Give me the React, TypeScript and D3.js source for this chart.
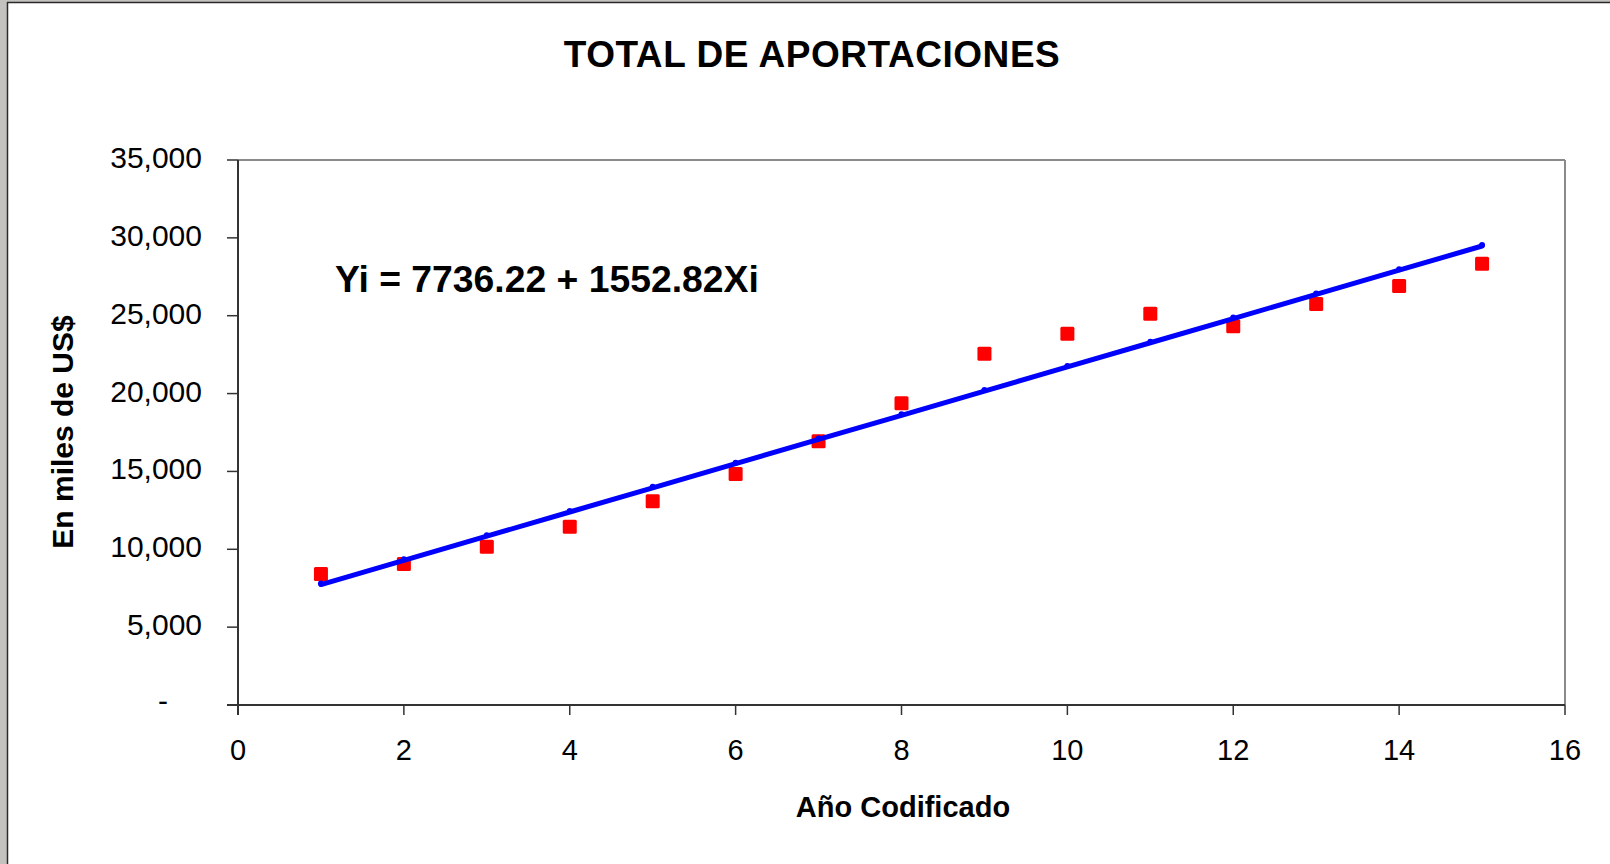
import React from "react";
import * as d3 from "d3";

const years = [1, 2, 3, 4, 5, 6, 7, 8, 9, 10, 11, 12, 13, 14, 15];
const observed = [8413, 9055, 10166, 11451, 13082, 14835, 16934, 19375, 22561, 23845, 25130, 24320, 25752, 26908, 28341];
const fitted = [7736, 9289, 10842, 12395, 13948, 15500, 17053, 18606, 20159, 21712, 23264, 24817, 26370, 27923, 29476];
const xTicks = [0, 2, 4, 6, 8, 10, 12, 14, 16];
const yTicks = [0, 5000, 10000, 15000, 20000, 25000, 30000, 35000];

const title = "TOTAL DE APORTACIONES";
const equation = "Yi = 7736.22 + 1552.82Xi";
const xLabel = "Año Codificado";
const yLabel = "En miles de US$";

export default function App() {
  const W = 1610, H = 864;
  const left = 238, right = 1565, top = 160, bottom = 705;
  const x = d3.scaleLinear().domain([0, 16]).range([left, right]);
  const y = d3.scaleLinear().domain([0, 35000]).range([bottom, top]);
  const fmt = d3.format(",");
  const line = d3
    .line<number>()
    .x((_, i) => x(years[i]))
    .y((d) => y(d));
  const font = "'Liberation Sans', Arial, Helvetica, sans-serif";
  const sq = 14;

  return (
    <svg
      width={W}
      height={H}
      style={{ position: "absolute", left: 0, top: 0, display: "block" }}
      fontFamily={font}
    >
      <rect x={0} y={0} width={W} height={H} fill="#c4c2bf" />
      <rect x={8} y={3} width={W - 8} height={H - 3} fill="#ffffff" />
      <line x1={7.5} y1={2} x2={7.5} y2={H} stroke="#2a2a2a" strokeWidth={1.5} />
      <line x1={7} y1={2.5} x2={W} y2={2.5} stroke="#2a2a2a" strokeWidth={1.5} />

      <text x={812} y={67} textAnchor="middle" fontSize={37} fontWeight="bold" letterSpacing={0.55} fill="#000">
        {title}
      </text>

      {/* plot frame */}
      <line x1={left} y1={top} x2={right} y2={top} stroke="#8a8a8a" strokeWidth={2} />
      <line x1={right} y1={top} x2={right} y2={bottom} stroke="#8a8a8a" strokeWidth={2} />

      {/* y axis */}
      <line x1={left} y1={top} x2={left} y2={bottom + 10} stroke="#333" strokeWidth={2} />
      {yTicks.map((t) => (
        <g key={"y" + t}>
          <line x1={left - 11} y1={y(t)} x2={left} y2={y(t)} stroke="#333" strokeWidth={1.5} />
          {t === 0 ? (
            <text x={163} y={y(t) + 6} textAnchor="middle" fontSize={30} fill="#000">
              -
            </text>
          ) : (
            <text x={202} y={y(t) + 8} textAnchor="end" fontSize={30} fill="#000">
              {fmt(t)}
            </text>
          )}
        </g>
      ))}

      {/* x axis */}
      <line x1={left - 11} y1={bottom} x2={right} y2={bottom} stroke="#333" strokeWidth={2} />
      {xTicks.map((t) => (
        <g key={"x" + t}>
          <line x1={x(t)} y1={bottom} x2={x(t)} y2={bottom + 10} stroke="#333" strokeWidth={1.5} />
          <text x={x(t)} y={760} textAnchor="middle" fontSize={29} fill="#000">
            {t}
          </text>
        </g>
      ))}

      <text x={903} y={817} textAnchor="middle" fontSize={29} fontWeight="bold" fill="#000">
        {xLabel}
      </text>
      <text
        transform={`translate(73, 432) rotate(-90)`}
        textAnchor="middle"
        fontSize={30}
        fontWeight="bold"
        fill="#000"
      >
        {yLabel}
      </text>

      {/* observed points */}
      {observed.map((v, i) => (
        <rect
          key={"o" + i}
          x={x(years[i]) - sq / 2}
          y={y(v) - sq / 2}
          width={sq}
          height={sq}
          rx={1.5}
          fill="#ff0000"
        />
      ))}

      {/* fitted line */}
      <path d={line(fitted) || ""} fill="none" stroke="#0000ff" strokeWidth={5} strokeLinecap="round" />
      {fitted.map((v, i) => (
        <circle key={"f" + i} cx={x(years[i])} cy={y(v) - 1} r={3} fill="#0000ff" />
      ))}

      <text x={335} y={292} fontSize={37.3} fontWeight="bold" fill="#000">
        {equation}
      </text>
    </svg>
  );
}
